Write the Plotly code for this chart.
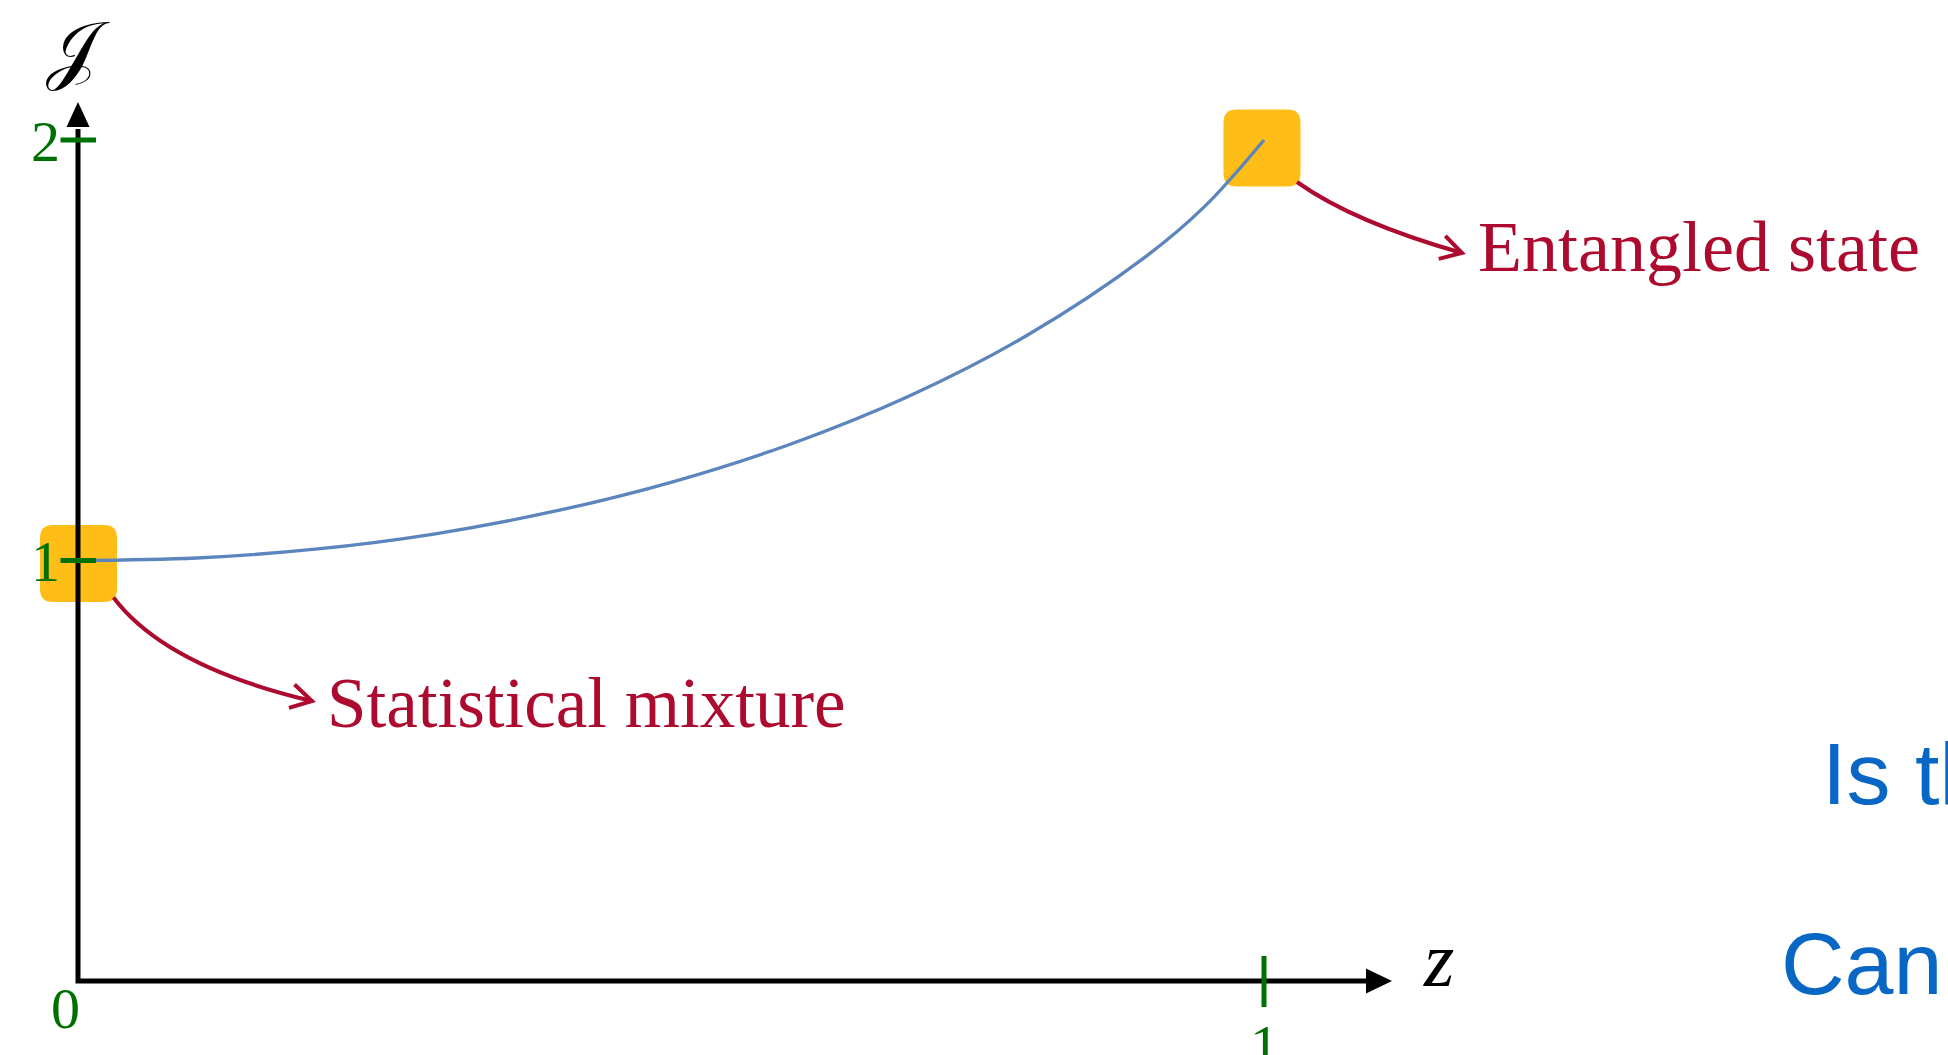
import math
import plotly.graph_objects as go

# ---------------- data ----------------
z_vals = [0.0, 0.1, 0.2, 0.3, 0.4, 0.5, 0.6, 0.7, 0.8, 0.9, 0.95, 1.0]
J_vals = [1.0, 1.006, 1.027, 1.063, 1.116, 1.186, 1.276, 1.390, 1.535, 1.722, 1.842, 2.0]

x_tick_vals = [1]
x_tick_labels = ["1"]
y_tick_vals = [1, 2]
y_tick_labels = ["1", "2"]
origin_label = "0"

highlight_z = [0, 1]
highlight_J = [1, 2]
callout_texts = ["Statistical mixture", "Entangled state"]
side_texts = ["Is th", "Can"]
x_label = "z"
y_label = "𝒥"

# ---------------- geometry / style ----------------
W, H = 1948, 1055
X0, XS = 78.0, 1186.0     # pixel of z=0 and pixels per unit
Y0, YS = 981.0, 420.5     # pixel of J=0 and pixels per unit


def dx(p):
    return (p - X0) / XS


def dy(p):
    return (Y0 - p) / YS


def pxx(v):
    return X0 + XS * v


def pyy(v):
    return Y0 - YS * v


def P(px, py):
    return f"{dx(px):.6f},{dy(py):.6f}"


GREEN = "#007000"
RED = "#AC0A2E"
ORANGE = "#FFBE17"
BLUE_LINE = "#5C85BD"
BLUE_TEXT = "#0866C4"
SERIF = "Liberation Serif, Times New Roman, serif"
SANS = "Liberation Sans, Arial, sans-serif"

shapes = []

# rounded highlight boxes
box_offsets = [(0.5, 3.0), (-2.0, 8.0)]
BOX = 77.0
R = 13.0


def rrect(cx, cy, w, h, r):
    x0, x1 = cx - w / 2, cx + w / 2
    y0, y1 = cy - h / 2, cy + h / 2
    return (f"M {P(x0 + r, y0)} L {P(x1 - r, y0)} Q {P(x1, y0)} {P(x1, y0 + r)} "
            f"L {P(x1, y1 - r)} Q {P(x1, y1)} {P(x1 - r, y1)} "
            f"L {P(x0 + r, y1)} Q {P(x0, y1)} {P(x0, y1 - r)} "
            f"L {P(x0, y0 + r)} Q {P(x0, y0)} {P(x0 + r, y0)} Z")


box_centers = []
for (hz, hj), (ox, oy) in zip(zip(highlight_z, highlight_J), box_offsets):
    cx, cy = pxx(hz) + ox, pyy(hj) + oy
    box_centers.append((cx, cy))
    shapes.append(dict(type="path", path=rrect(cx, cy, BOX, BOX, R), xref="x", yref="y",
                       fillcolor=ORANGE, line=dict(width=0), layer="below"))

# axes (one path so the corner is mitred)
X_ARROW_BASE, X_ARROW_TIP = 1366.0, 1392.0
Y_ARROW_BASE, Y_ARROW_TIP = 127.0, 102.0
shapes.append(dict(type="path", xref="x", yref="y", layer="below",
                   path=f"M {P(X_ARROW_BASE + 2, Y0)} L {P(X0, Y0)} L {P(X0, Y_ARROW_BASE + 2)}",
                   line=dict(color="black", width=5)))
shapes.append(dict(type="path", xref="x", yref="y", layer="below", fillcolor="black",
                   line=dict(width=0),
                   path=f"M {P(X_ARROW_BASE, Y0 - 12.5)} L {P(X_ARROW_TIP, Y0)} L {P(X_ARROW_BASE, Y0 + 12.5)} Z"))
shapes.append(dict(type="path", xref="x", yref="y", layer="below", fillcolor="black",
                   line=dict(width=0),
                   path=f"M {P(X0 - 11.5, Y_ARROW_BASE)} L {P(X0, Y_ARROW_TIP)} L {P(X0 + 11.5, Y_ARROW_BASE)} Z"))

# green tick marks (crossing the axis)
for v in y_tick_vals:
    shapes.append(dict(type="line", xref="x", yref="y", layer="above",
                       x0=dx(X0 - 17.5), x1=dx(X0 + 18), y0=v, y1=v,
                       line=dict(color=GREEN, width=5)))
for v in x_tick_vals:
    shapes.append(dict(type="line", xref="x", yref="y", layer="above",
                       x0=v, x1=v, y0=dy(Y0 - 25), y1=dy(Y0 + 26),
                       line=dict(color=GREEN, width=5)))

# red callout arrows (quadratic curves with open chevrons)
text_pos = [(325.0, 703.0), (1476.0, 247.0)]       # left edge, vertical middle
arrow_ctrl_off = [(52.0, 69.0), (56.0, 40.0)]     # control point offset from start
arrow_tip_off = [(-13.0, -2.0), (-14.0, 6.0)]     # tip offset from text anchor
for (cx, cy), (tx, ty), (cox, coy), (tox, toy) in zip(box_centers, text_pos, arrow_ctrl_off, arrow_tip_off):
    sx, sy = cx + 35.0, cy + 34.0
    qx, qy = sx + cox, sy + coy
    ex, ey = tx + tox, ty + toy
    shapes.append(dict(type="path", xref="x", yref="y", layer="above",
                       path=f"M {P(sx, sy)} Q {P(qx, qy)} {P(ex, ey)}",
                       line=dict(color=RED, width=4)))
    ux, uy = ex - qx, ey - qy
    n = math.hypot(ux, uy)
    ux, uy = ux / n, uy / n
    L = 24.0
    pts = []
    for ang in (math.radians(30), math.radians(-30)):
        bx, by = -ux, -uy
        rx = bx * math.cos(ang) - by * math.sin(ang)
        ry = bx * math.sin(ang) + by * math.cos(ang)
        pts.append((ex + L * rx, ey + L * ry))
    shapes.append(dict(type="path", xref="x", yref="y", layer="above",
                       path=f"M {P(*pts[0])} L {P(ex, ey)} L {P(*pts[1])}",
                       line=dict(color=RED, width=4)))

# ---------------- figure ----------------
fig = go.Figure()
fig.add_trace(go.Scatter(x=z_vals, y=J_vals, mode="lines",
                         line=dict(color=BLUE_LINE, width=3.3, shape="spline", smoothing=1.0),
                         hoverinfo="skip", showlegend=False))

ann = []
callout_sizes = [71, 72]
for t, (tx, ty), fs in zip(callout_texts, text_pos, callout_sizes):
    ann.append(dict(x=dx(tx), y=dy(ty), xref="x", yref="y", text=t, showarrow=False,
                    xanchor="left", yanchor="middle",
                    font=dict(family=SERIF, size=fs, color=RED)))

side_pos = [(1820.0, 773.0), (1779.0, 963.0)]
for t, (tx, ty) in zip(side_texts, side_pos):
    ann.append(dict(x=dx(tx), y=dy(ty), xref="x", yref="y", text=t, showarrow=False,
                    xanchor="left", yanchor="middle",
                    font=dict(family=SANS, size=88, color=BLUE_TEXT)))

# tick labels
for v, t in zip(y_tick_vals, y_tick_labels):
    ann.append(dict(x=0, y=v, xref="x", yref="y", text=t, showarrow=False,
                    xanchor="right", yanchor="middle", xshift=-16, yshift=-1,
                    font=dict(family=SERIF, size=58, color=GREEN)))
for v, t in zip(x_tick_vals, x_tick_labels):
    ann.append(dict(x=v, y=0, xref="x", yref="y", text=t, showarrow=False,
                    xanchor="center", yanchor="top", yshift=-30,
                    font=dict(family=SERIF, size=58, color=GREEN)))
ann.append(dict(x=0, y=0, xref="x", yref="y", text=origin_label, showarrow=False,
                xanchor="center", yanchor="middle", xshift=-13, yshift=-27,
                font=dict(family=SERIF, size=58, color=GREEN)))

# axis labels
ann.append(dict(x=0, y=dy(48), xref="x", yref="y", text=y_label, showarrow=False,
                xanchor="center", yanchor="middle",
                font=dict(family="DejaVu Serif, DejaVu Sans, serif", size=76, color="black")))
ann.append(dict(x=dx(1438), y=dy(959), xref="x", yref="y", text=f"<i>{x_label}</i>", showarrow=False,
                xanchor="center", yanchor="middle",
                font=dict(family=SERIF, size=78, color="black")))

fig.update_layout(
    width=W, height=H,
    margin=dict(l=0, r=0, t=0, b=0, pad=0),
    paper_bgcolor="white", plot_bgcolor="white",
    xaxis=dict(range=[dx(0), dx(W)], visible=False, fixedrange=True),
    yaxis=dict(range=[dy(H), dy(0)], visible=False, fixedrange=True),
    shapes=shapes,
    annotations=ann,
    showlegend=False,
)

fig.write_html("out.html", config={"displayModeBar": False},
               post_script="document.body.style.margin='0';document.body.style.overflow='hidden';")
